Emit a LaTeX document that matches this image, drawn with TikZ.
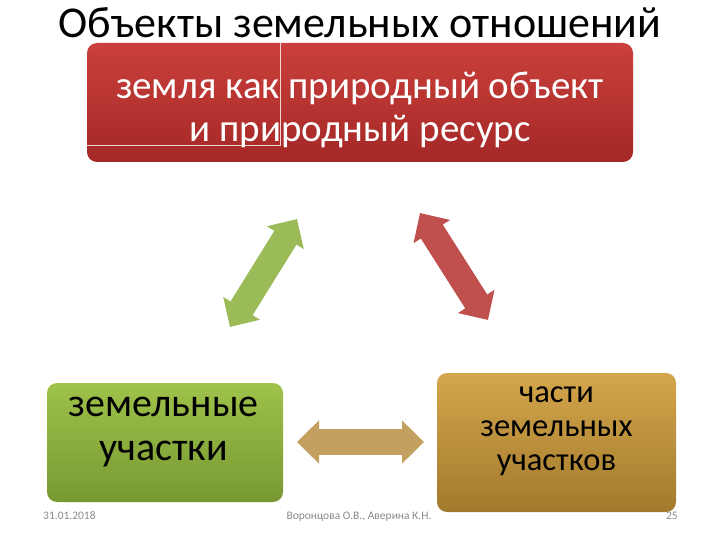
\documentclass[tikz,border=0pt]{standalone}
\usepackage{fontspec}
\setmainfont{Carlito}
\usepackage{xcolor}
\usetikzlibrary{arrows.meta, calc, positioning}

\definecolor{landtop}{RGB}{202,64,60}
\definecolor{landbot}{RGB}{164,40,38}
\definecolor{plottop}{RGB}{158,194,74}
\definecolor{plotbot}{RGB}{120,153,50}
\definecolor{parttop}{RGB}{212,166,76}
\definecolor{partbot}{RGB}{162,122,44}
\definecolor{greenarr}{RGB}{155,187,89}
\definecolor{redarr}{RGB}{192,80,77}
\definecolor{goldarr}{RGB}{196,160,96}
\definecolor{footgray}{RGB}{137,137,137}

\tikzset{
    box/.style={rounded corners=10pt, inner sep=0pt, draw=none},
    blockarrow/.style={draw=#1, line width=26pt,
        arrows={Triangle[width=42pt,length=22pt]-Triangle[width=42pt,length=22pt]}},
    foot/.style={text=footgray, font=\fontsize{11.5}{13}\selectfont, inner sep=0pt},
}

\newcommand{\slidebox}[6]{
    \node[box, minimum width=#3, minimum height=#4, top color=#5, bottom color=#6] (#1) at (#2) {};
}

\begin{document}
\begin{tikzpicture}[x=1pt, y=-1pt]
    \useasboundingbox (0,0) rectangle (720,540);
    \node[anchor=base, font=\fontsize{44}{44}\selectfont] (title) at (360,38) {Объекты земельных отношений};

    \slidebox{land}{360,102.5}{546pt}{119pt}{landtop}{landbot}
    \slidebox{plots}{165,442.5}{236pt}{119pt}{plottop}{plotbot}
    \slidebox{parts}{556.5,442.5}{239pt}{139pt}{parttop}{partbot}

    % thin light lines over the red box
    \draw[white, opacity=0.8, line width=0.6pt] (280,43) -- (280,145) -- (87,145);

    \node[text=white, align=center, font=\fontsize{39}{43}\selectfont] (land-t) at (360,110)
        {земля как природный объект\\и природный ресурс};
    \node[align=center, font=\fontsize{40}{44}\selectfont] (plots-t) at (163.5,432)
        {земельные\\участки};
    \node[align=center, font=\fontsize{32.5}{34}\selectfont] (parts-t) at (556.5,431)
        {части\\земельных\\участков};

    \coordinate (ga) at (230,327);
    \coordinate (gb) at (297,219);
    \coordinate (ra) at (420,213);
    \coordinate (rb) at (488,320);
    \coordinate (ya) at (297,442);
    \coordinate (yb) at (424,442);
    \draw[blockarrow=greenarr] (ga) -- (gb);
    \draw[blockarrow=redarr] (ra) -- (rb);
    \draw[blockarrow=goldarr] (ya) -- (yb);

    \node[foot, anchor=base west] (date) at (43,519) {31.01.2018};
    \node[foot, anchor=base] (authors) at (359,519) {Воронцова О.В., Аверина К.Н.};
    \node[foot, anchor=base east] (page) at (678,519) {25};
\end{tikzpicture}
\end{document}
